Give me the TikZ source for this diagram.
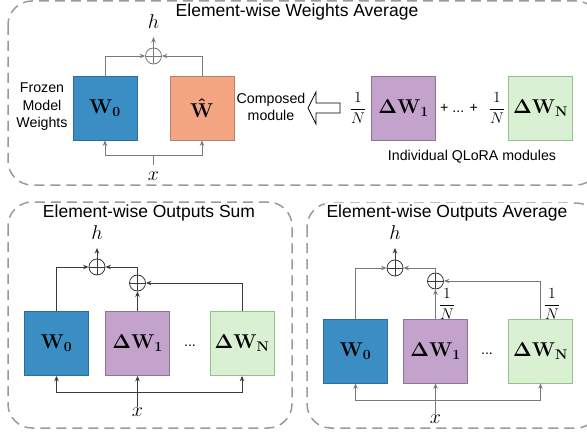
\RequirePackage{fix-cm}
\documentclass[tikz,border=0pt]{standalone}
\usepackage{amsmath,bm}
\usepackage[no-math]{fontspec}
\setmainfont{Liberation Sans}
\usetikzlibrary{arrows.meta,calc}
\definecolor{wblue}{HTML}{3B8EC3}
\definecolor{wblueb}{HTML}{2C6E99}
\definecolor{wsalmon}{HTML}{F4A582}
\definecolor{wsalmonb}{HTML}{B5816B}
\definecolor{wpurple}{HTML}{C3A2CC}
\definecolor{wpurpleb}{HTML}{8C7596}
\definecolor{wgreen}{HTML}{D9F0D3}
\definecolor{wgreenb}{HTML}{93C18A}
\definecolor{panelgray}{HTML}{9A9A9A}
\definecolor{linegray}{HTML}{7A7A7A}
\definecolor{linedark}{HTML}{3A3A3A}
\begin{document}
\begin{tikzpicture}[x=1pt,y=-1pt,
  panel/.style={draw=panelgray, line width=1.5pt, dash pattern=on 10pt off 6pt, rounded corners=24pt},
  ptitle/.style={fill=white, inner sep=2pt, font=\fontsize{17.5}{20}\selectfont},
  lbl/.style={font=\fontsize{14.2}{17.5}\selectfont, align=center, inner sep=0pt},
  wbox/.style={draw, line width=0.8pt, minimum width=64pt, minimum height=64pt, inner sep=0pt, font=\fontsize{20}{23}\selectfont},
  oplus/.style={circle, draw, line width=0.8pt, minimum size=16pt, inner sep=0pt,
    path picture={\draw[line width=0.8pt] (path picture bounding box.north) -- (path picture bounding box.south)
      (path picture bounding box.west) -- (path picture bounding box.east);}},
  mlbl/.style={inner sep=0pt, font=\fontsize{20}{22}\selectfont},
  frac/.style={inner sep=0pt, font=\fontsize{15.5}{17}\selectfont},
  conn/.style={line width=0.9pt},
  arr/.style={conn, -{Stealth[length=5.5pt,width=4.5pt]}},
]
\useasboundingbox (0,0) rectangle (587,436);

% ================= top panel =================
\draw[panel] (8,1) rectangle (600,185);
\node[ptitle] (t1) at (297,12) {Element-wise Weights Average};

\node[wbox, fill=wblue, draw=wblueb] (W0a) at (105,108) {$\mathbf{W}_{\mathbf{0}}$};
\node[wbox, fill=wsalmon, draw=wsalmonb] (Wh) at (202,108) {$\mathbf{\hat{W}}$};
\node[oplus, draw=linegray] (opa) at (153.5,56) {};
\node[mlbl, anchor=south] (ha) at (153.5,29) {$h$};
\draw[arr, linegray] (W0a.north) |- (opa.west);
\draw[arr, linegray] (Wh.north) |- (opa.east);
\draw[arr, linegray, shorten >=8pt] (opa.north) -- (ha.south);

\coordinate (ja) at (153.5,155);
\node[mlbl] (xa) at (153.5,176) {$x$};
\draw[conn, linegray, shorten <=6pt] (xa.north) -- (ja);
\draw[arr, linegray] (ja) -| (W0a.south);
\draw[arr, linegray] (ja) -| (Wh.south);

\node[lbl] (frozen) at (42,107) {Frozen\\Model\\Weights};
\node[lbl] (composed) at (271,107) {Composed\\module};
\draw[line width=0.8pt, fill=white] (308,108) -- (316,92) -- (316,103) -- (340,103) -- (340,113) -- (316,113) -- (316,124) -- cycle;

\node[frac] (f1) at (358,108) {$\dfrac{1}{N}$};
\node[wbox, fill=wpurple, draw=wpurpleb] (D1a) at (403.5,108) {$\bm{\Delta}\mathbf{W}_{\mathbf{1}}$};
\node[lbl] (plus) at (459,108) {+ ... +};
\node[frac] (f2) at (497,108) {$\dfrac{1}{N}$};
\node[wbox, fill=wgreen, draw=wgreenb] (DNa) at (540.5,108) {$\bm{\Delta}\mathbf{W}_{\mathbf{N}}$};
\node[lbl] (indiv) at (472,157) {Individual QLoRA modules};

% ================= bottom-left panel =================
\draw[panel] (8,202) rectangle (292,428);
\node[ptitle] (t2) at (149,213) {Element-wise Outputs Sum};

\node[wbox, fill=wblue, draw=wblueb] (W0b) at (56.5,343.5) {$\mathbf{W}_{\mathbf{0}}$};
\node[wbox, fill=wpurple, draw=wpurpleb] (D1b) at (137.5,343.5) {$\bm{\Delta}\mathbf{W}_{\mathbf{1}}$};
\node[lbl] (dotsb) at (190,346) {...};
\node[wbox, fill=wgreen, draw=wgreenb] (DNb) at (242,343.5) {$\bm{\Delta}\mathbf{W}_{\mathbf{N}}$};
\node[oplus, draw=linedark] (op1b) at (97,267) {};
\node[oplus, draw=linedark] (op2b) at (137.5,283) {};
\node[mlbl, anchor=south] (hb) at (97,240) {$h$};
\draw[arr, linedark] (W0b.north) |- (op1b.west);
\draw[arr, linedark] (op2b.north) |- (op1b.east);
\draw[arr, linedark] (D1b.north) -- (op2b.south);
\draw[arr, linedark] (DNb.north) |- (op2b.east);
\draw[arr, linedark, shorten >=8pt] (op1b.north) -- (hb.south);
\coordinate (jb) at (137.5,392);
\node[mlbl] (xb) at (137.5,412) {$x$};
\draw[arr, linedark] (xb.north) -- (D1b.south);
\draw[arr, linedark] (jb) -| (W0b.south);
\draw[arr, linedark] (jb) -| (DNb.south);

% ================= bottom-right panel =================
\draw[panel] (307,203) rectangle (600,428);
\node[ptitle] (t3) at (447,213) {Element-wise Outputs Average};

\node[wbox, fill=wblue, draw=wblueb] (W0c) at (355.5,351) {$\mathbf{W}_{\mathbf{0}}$};
\node[wbox, fill=wpurple, draw=wpurpleb] (D1c) at (435.5,351) {$\bm{\Delta}\mathbf{W}_{\mathbf{1}}$};
\node[lbl] (dotsc) at (487,354) {...};
\node[wbox, fill=wgreen, draw=wgreenb] (DNc) at (540.5,351) {$\bm{\Delta}\mathbf{W}_{\mathbf{N}}$};
\node[oplus, draw=linedark] (op1c) at (395,268) {};
\node[oplus, draw=linedark] (op2c) at (435.5,281) {};
\node[mlbl, anchor=south] (hc) at (395,240) {$h$};
\draw[arr, linegray] (W0c.north) |- (op1c.west);
\draw[arr, linegray] (op2c.north) |- (op1c.east);
\draw[arr, linegray] (D1c.north) -- (op2c.south);
\draw[arr, linegray] (DNc.north) |- (op2c.east);
\draw[arr, linedark, shorten >=8pt] (op1c.north) -- (hc.south);
\node[frac] (f3) at (447,304) {$\dfrac{1}{N}$};
\node[frac] (f4) at (552,304) {$\dfrac{1}{N}$};
\coordinate (jc) at (435.5,400);
\node[mlbl] (xc) at (435.5,419) {$x$};
\draw[arr, linegray] (xc.north) -- (D1c.south);
\draw[arr, linegray] (jc) -| (W0c.south);
\draw[arr, linegray] (jc) -| (DNc.south);
\end{tikzpicture}
\end{document}
